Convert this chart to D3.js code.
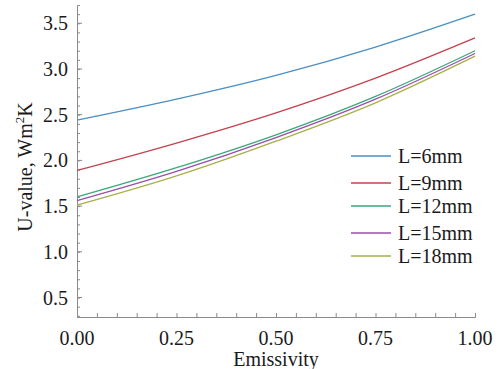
<!DOCTYPE html>
<html>
<head>
<meta charset="utf-8">
<script src="https://cdn.jsdelivr.net/npm/d3@7"></script>
<style>
  body { margin: 0; background: #fff; }
  text { font-family: "Liberation Serif", "Times New Roman", Times, serif; fill: #1a1a1a; }
</style>
</head>
<body>
<div id="chart"></div>
<script>
// Data
const emissivity = [0, 0.25, 0.5, 0.75, 1.0];
const seriesNames = ["L=6mm", "L=9mm", "L=12mm", "L=15mm", "L=18mm"];
const u6  = [2.44, 2.67, 2.93, 3.24, 3.60];
const u9  = [1.89, 2.19, 2.52, 2.90, 3.34];
const u12 = [1.60, 1.92, 2.28, 2.70, 3.20];
const u15 = [1.56, 1.88, 2.25, 2.67, 3.17];
const u18 = [1.51, 1.83, 2.21, 2.63, 3.14];
const xTicks = [0, 0.25, 0.5, 0.75, 1.0];
const yTicks = [0.5, 1.0, 1.5, 2.0, 2.5, 3.0, 3.5];

const colors = ["#4a8fc2", "#c2434d", "#3aa87a", "#9a4fa8", "#a8b048"];
const allSeries = [u6, u9, u12, u15, u18];

let width = 501, height = 369;
let margin = { top: 5, right: 26, bottom: 52, left: 77 };

let svg = d3.select("#chart").append("svg")
    .attr("width", width)
    .attr("height", height);

let x = d3.scaleLinear().domain([0, 1]).range([margin.left, width - margin.right]);
let y = d3.scaleLinear().domain([0.287, 3.70]).range([height - margin.bottom, margin.top]);

const axisColor = "#8a8a8a";

// x axis: ticks pointing inward (up)
let gx = svg.append("g")
    .attr("transform", `translate(0,${height - margin.bottom})`);
gx.call(d3.axisBottom(x).tickValues(d3.range(0, 1.0001, 0.05)).tickSize(-4).tickFormat(""));
gx.select(".domain").attr("stroke", axisColor);
gx.selectAll(".tick line").attr("stroke", axisColor);

svg.append("g")
    .selectAll("text")
    .data(xTicks)
    .enter()
    .append("text")
    .attr("x", d => x(d))
    .attr("y", height - margin.bottom + 28)
    .attr("text-anchor", "middle")
    .style("font-size", "20px")
    .text(d => d.toFixed(2));

// y axis: ticks pointing inward (right)
let gy = svg.append("g")
    .attr("transform", `translate(${margin.left},0)`);
gy.call(d3.axisLeft(y).tickValues(d3.range(0.3, 3.65, 0.1)).tickSize(-3).tickFormat(""));
gy.select(".domain").attr("stroke", axisColor);
gy.selectAll(".tick line").attr("stroke", axisColor);

svg.append("g")
    .selectAll("line")
    .data(yTicks)
    .enter()
    .append("line")
    .attr("x1", margin.left)
    .attr("x2", margin.left + 5)
    .attr("y1", d => y(d))
    .attr("y2", d => y(d))
    .attr("stroke", axisColor);

svg.append("g")
    .selectAll("text")
    .data(yTicks)
    .enter()
    .append("text")
    .attr("x", margin.left - 9)
    .attr("y", d => y(d) + 7)
    .attr("text-anchor", "end")
    .style("font-size", "20px")
    .text(d => d.toFixed(1));

// axis titles
svg.append("text")
    .attr("x", x(0.5))
    .attr("y", 366)
    .attr("text-anchor", "middle")
    .style("font-size", "20px")
    .text("Emissivity");

let yTitle = svg.append("text")
    .attr("transform", `translate(32,167) rotate(-90)`)
    .attr("text-anchor", "middle")
    .style("font-size", "20px");
yTitle.append("tspan").text("U-value, Wm");
yTitle.append("tspan").attr("dy", -8).style("font-size", "13px").text("2");
yTitle.append("tspan").attr("dy", 8).text("K");

// curves
let line = d3.line()
    .x((d, i) => x(emissivity[i]))
    .y(d => y(d))
    .curve(d3.curveMonotoneX);

allSeries.forEach((s, i) => {
    svg.append("path")
        .datum(s)
        .attr("fill", "none")
        .attr("stroke", colors[i])
        .attr("stroke-width", 1.3)
        .attr("d", line);
});

// legend
const legendY = [156, 183, 206, 233, 256];
let legend = svg.append("g");
seriesNames.forEach((name, i) => {
    legend.append("line")
        .attr("x1", 351).attr("x2", 391)
        .attr("y1", legendY[i]).attr("y2", legendY[i])
        .attr("stroke", colors[i])
        .attr("stroke-width", 1.3);
    legend.append("text")
        .attr("x", 398)
        .attr("y", legendY[i] + 7)
        .style("font-size", "20px")
        .text(name);
});
</script>
</body>
</html>
